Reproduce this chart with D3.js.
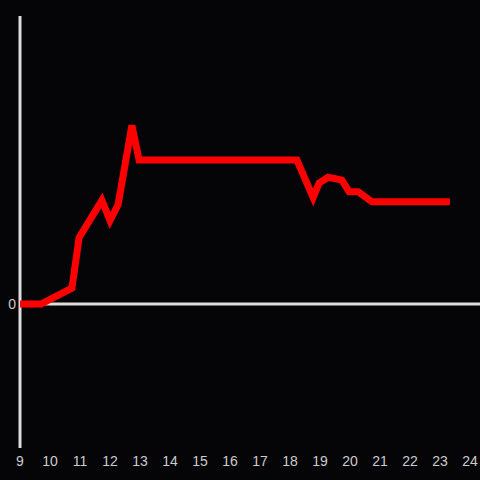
<!DOCTYPE html>
<html>
<head>
<meta charset="utf-8">
<script src="https://cdn.jsdelivr.net/npm/d3@7"></script>
<style>
  html, body { margin: 0; padding: 0; background: #050407; }
  svg { display: block; }
</style>
</head>
<body>
<div id="chart"></div>
<script>
// hour of day along x, value along y
var hours = [9, 9.7, 10.73, 10.97, 11.73, 12, 12.27, 12.73, 12.97, 18.23, 18.77, 18.97, 19.27, 19.73, 19.97, 20.27, 20.73, 23.33];
var values = [0, 0, 0.11, 0.46, 0.72, 0.58, 0.69, 1.24, 1.0, 1.0, 0.74, 0.84, 0.88, 0.86, 0.78, 0.78, 0.71, 0.71];
var xTicks = [9, 10, 11, 12, 13, 14, 15, 16, 17, 18, 19, 20, 21, 22, 23, 24];
var yTicks = [0];

var width = 480, height = 480;

var svg = d3.select("#chart").append("svg")
  .attr("width", width)
  .attr("height", height);

svg.append("rect")
  .attr("width", width)
  .attr("height", height)
  .attr("fill", "#050407");

var x = d3.scaleLinear().domain([9, 24]).range([20, 470]);
var y = d3.scaleLinear().domain([-1, 2]).range([448, 16]);

// vertical axis line
svg.append("line")
  .attr("x1", x(9)).attr("x2", x(9))
  .attr("y1", y(2)).attr("y2", y(-1))
  .attr("stroke", "#dddddd")
  .attr("stroke-width", 3);

// zero line
svg.append("line")
  .attr("x1", x(9)).attr("x2", width)
  .attr("y1", y(0)).attr("y2", y(0))
  .attr("stroke", "#dddddd")
  .attr("stroke-width", 3);

svg.selectAll(".ylab")
  .data(yTicks)
  .enter().append("text")
  .attr("class", "ylab")
  .attr("x", 16)
  .attr("y", function (d) { return y(d); })
  .attr("dy", "0.35em")
  .attr("text-anchor", "end")
  .attr("fill", "#cccccc")
  .style("font-family", "Liberation Sans, Arial, sans-serif")
  .style("font-size", "14px")
  .text(function (d) { return d; });

svg.selectAll(".xlab")
  .data(xTicks)
  .enter().append("text")
  .attr("class", "xlab")
  .attr("x", function (d) { return x(d); })
  .attr("y", 466)
  .attr("text-anchor", "middle")
  .attr("fill", "#cccccc")
  .style("font-family", "Liberation Sans, Arial, sans-serif")
  .style("font-size", "14px")
  .text(function (d) { return d; });

var line = d3.line()
  .x(function (d, i) { return x(hours[i]); })
  .y(function (d) { return y(d); });

svg.append("path")
  .datum(values)
  .attr("d", line)
  .attr("fill", "none")
  .attr("stroke", "#ff0000")
  .attr("stroke-width", 7)
  .attr("stroke-linejoin", "miter");
</script>
</body>
</html>
